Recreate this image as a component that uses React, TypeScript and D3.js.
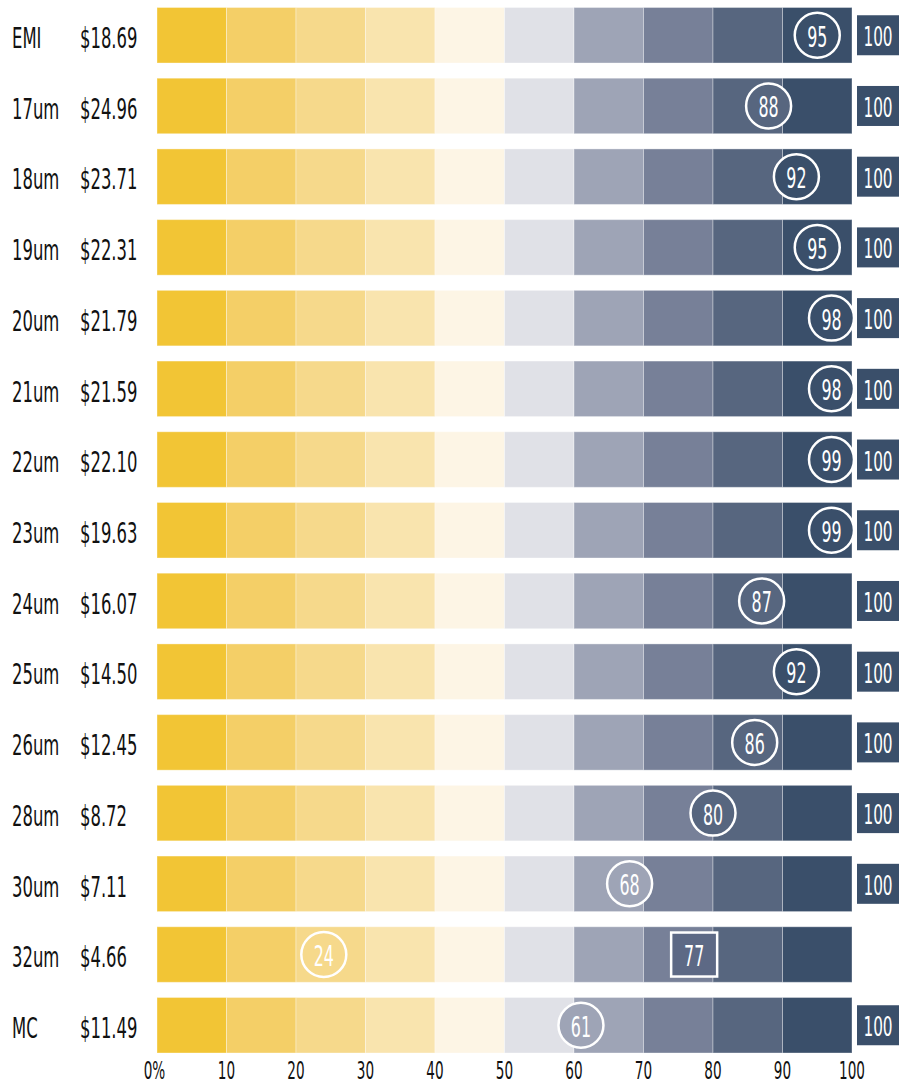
import React from "react";
import * as d3 from "d3";

const categories = ["EMI", "17um", "18um", "19um", "20um", "21um", "22um", "23um", "24um", "25um", "26um", "28um", "30um", "32um", "MC"];
const prices = ["$18.69", "$24.96", "$23.71", "$22.31", "$21.79", "$21.59", "$22.10", "$19.63", "$16.07", "$14.50", "$12.45", "$8.72", "$7.11", "$4.66", "$11.49"];
const scores = [95, 88, 92, 95, 98, 98, 99, 99, 87, 92, 86, 80, 68, 24, 61];
// 32um has a square marker and no max box
const squareScores: (number | null)[] = [null, null, null, null, null, null, null, null, null, null, null, null, null, 77, null];
const maxScores: (number | null)[] = [100, 100, 100, 100, 100, 100, 100, 100, 100, 100, 100, 100, 100, null, 100];
const bands = [0, 10, 20, 30, 40, 50, 60, 70, 80, 90];
const bandColors = ["#F2C535", "#F4CF67", "#F6D98B", "#F9E4AE", "#FDF5E5", "#E0E1E7", "#9EA4B6", "#778098", "#57667F", "#3A4F6A"];
const tickValues = [0, 10, 20, 30, 40, 50, 60, 70, 80, 90, 100];

const W = 907;
const H = 1084;
const FONT = "'DejaVu Sans Condensed', 'DejaVu Sans', sans-serif";
const SX = 0.63; // squeeze glyphs toward a condensed look

export default function App() {
  const x = d3.scaleLinear().domain([0, 100]).range([157, 852]);
  const y = d3
    .scaleBand()
    .domain(categories)
    .range([7.5, 1053])
    .paddingInner(0.215)
    .paddingOuter(0);
  const bw = y.bandwidth();
  const r = 22.5;
  const colorOf = (v: number) => bandColors[Math.min(9, Math.floor(v / 10))];

  const label = (tx: number, ty: number, text: string, size: number, anchor: string, fill: string, key?: string) => (
    <g key={key} transform={`translate(${tx},${ty}) scale(${SX},1)`}>
      <text fontSize={size} textAnchor={anchor} fill={fill}>
        {text}
      </text>
    </g>
  );

  return (
    <svg width={W} height={H} style={{ display: "block", position: "absolute", left: 0, top: 0 }} fontFamily={FONT}>
      <rect width={W} height={H} fill="#fff" />
      {categories.map((c, i) => {
        const top = y(c)!;
        const cy = top + bw / 2;
        const cx = Math.min(x(scores[i]), x(100) - r + 2);
        const sq = squareScores[i];
        const mx = maxScores[i];
        return (
          <g key={c}>
            {label(12, cy + 12.7, c, 29, "start", "#111")}
            {label(80, cy + 12.7, prices[i], 29, "start", "#111")}
            {bands.map((b, j) => (
              <rect
                key={b}
                x={x(b)}
                y={top}
                width={x(b + 10) - x(b)}
                height={bw}
                fill={bandColors[j]}
                stroke="#fff"
                strokeOpacity={0.35}
                strokeWidth={1}
              />
            ))}
            <circle cx={cx} cy={cy} r={r} fill={colorOf(scores[i])} stroke="#fff" strokeWidth={2.5} />
            {label(cx, cy + 11.5, String(scores[i]), 28, "middle", "#fff")}
            {sq !== null && (
              <g>
                <rect x={x(sq) - 21} y={cy - 22} width={46} height={44} fill="#5D6985" stroke="#fff" strokeWidth={2.5} />
                {label(x(sq) + 2, cy + 11.5, String(sq), 28, "middle", "#fff")}
              </g>
            )}
            {mx !== null && (
              <g>
                <rect x={857} y={cy - 20} width={42} height={40} fill="#3A4F6A" />
                {label(878, cy + 11, String(mx), 27, "middle", "#fff")}
              </g>
            )}
          </g>
        );
      })}
      {tickValues.map((t) =>
        label(x(t) - (t === 0 ? 2.5 : 0), 1079, t === 0 ? "0%" : String(t), 24, "middle", "#111", `t${t}`)
      )}
    </svg>
  );
}
